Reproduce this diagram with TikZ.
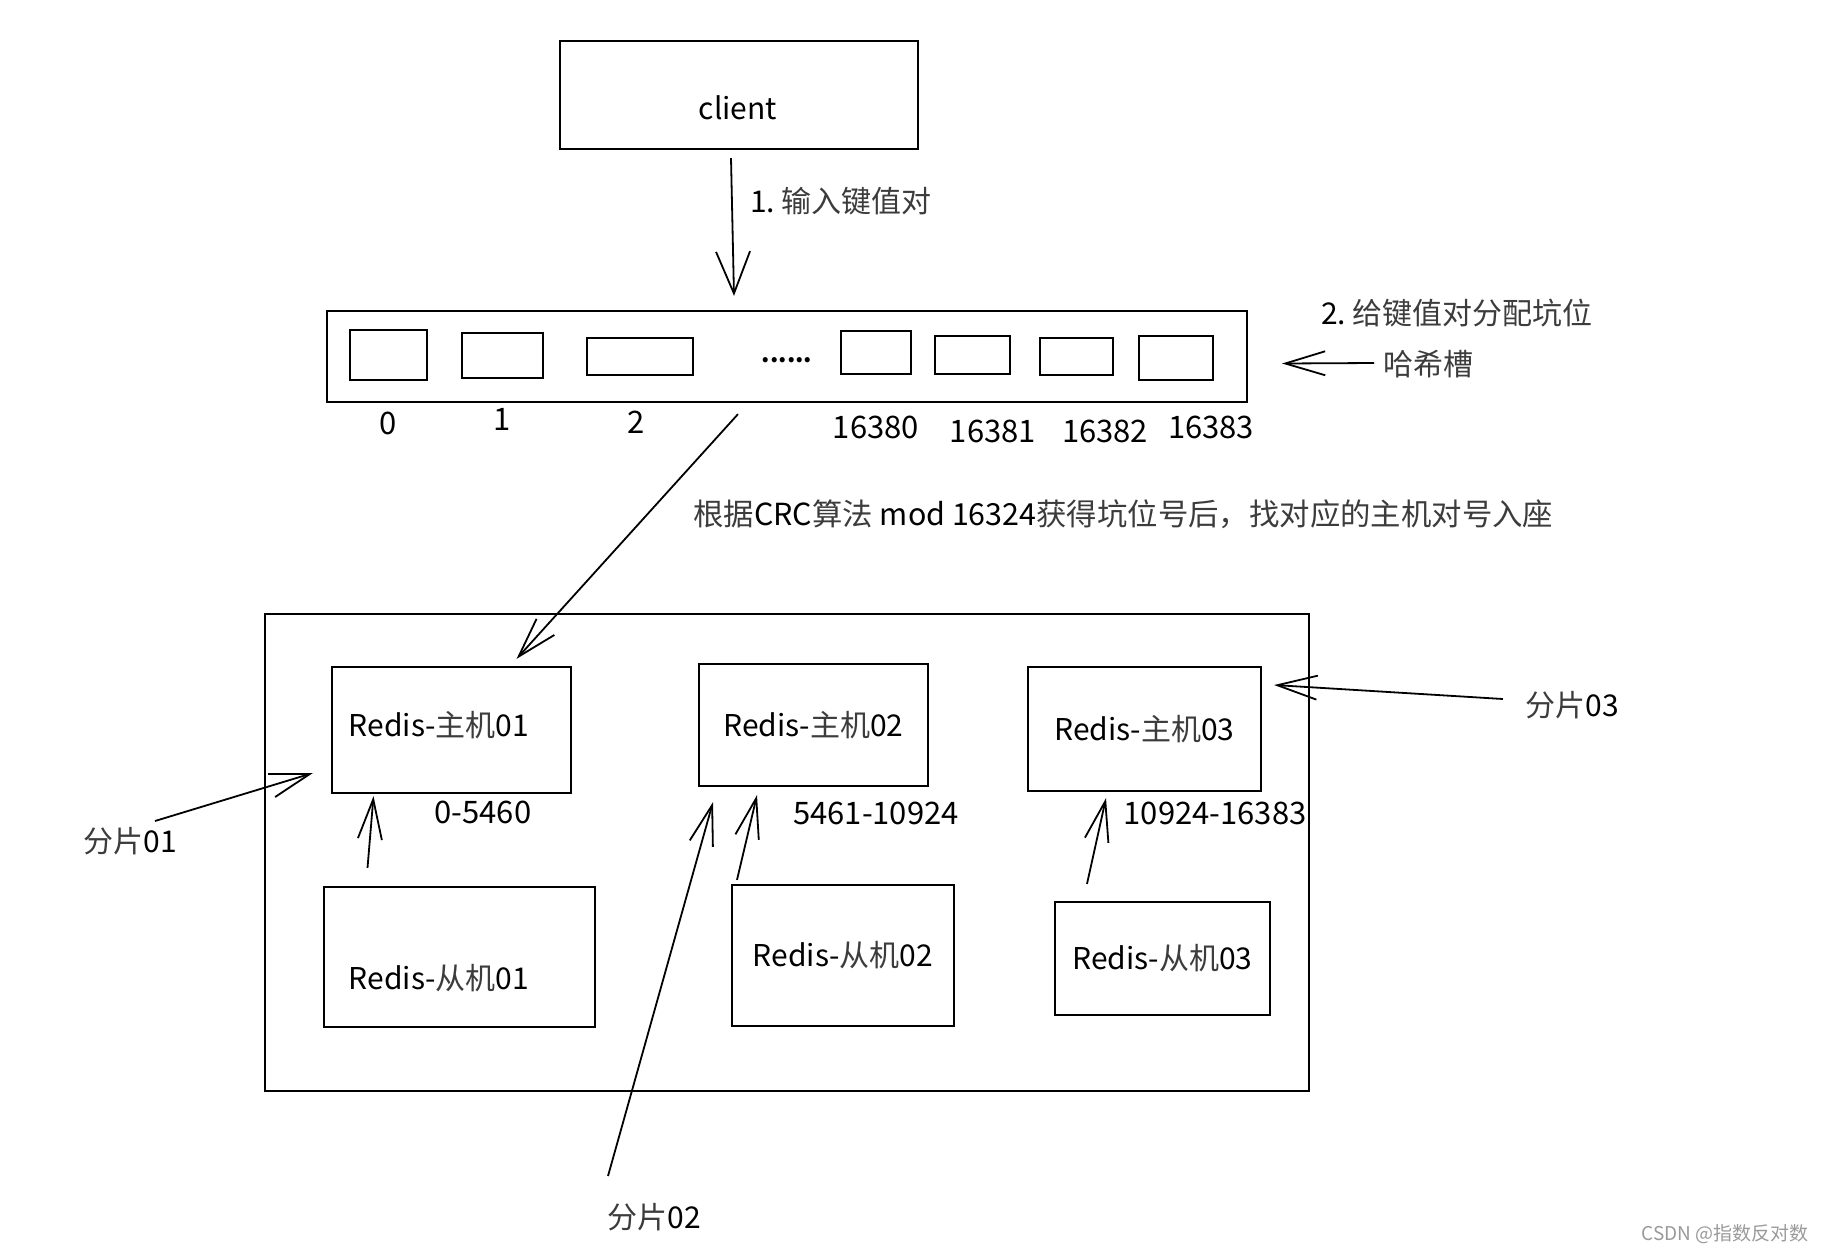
\documentclass[tikz,border=0pt]{standalone}
\usepackage{fontspec}
\setmainfont{Noto Sans CJK SC}
\usetikzlibrary{arrows.meta,calc}
\definecolor{zhgray}{HTML}{3C3C3C}
\definecolor{wmgray}{HTML}{9A9A9A}
\newcommand{\zhc}[1]{\textcolor{zhgray}{#1}}
\begin{document}
\begin{tikzpicture}[x=0.5pt,y=-0.5pt,
  bx/.style={draw, line width=1.1pt, inner sep=0pt, align=center, font=\fontsize{15}{18}\selectfont},
  txt/.style={inner sep=0pt, font=\fontsize{15}{18}\selectfont},
  num/.style={inner sep=0pt, font=\fontsize{15.5}{18}\selectfont},
  arr/.style={line width=0.9pt, -{Straight Barb[length=20pt,width=12pt,line width=0.9pt]}},
  wide/.style={-{Straight Barb[length=21pt,width=17pt,line width=0.9pt]}}
]
\useasboundingbox (0,0) rectangle (1826,1254);
\fill[white] (0,0) rectangle (1826,1254);

% client
\node[bx, minimum width=179pt, minimum height=54pt] (client) at (739,95) {};
\node[txt] (clientt) at (738,108) {client};
\node[txt] (stepone) at (841,201) {1.\ \zhc{输入键值对}};

% hash slot bar
\node[bx, minimum width=460pt, minimum height=45.5pt] (bar) at (787,356.5) {};
\node[bx, minimum width=38.5pt, minimum height=25pt] (s0) at (388.5,355) {};
\node[bx, minimum width=40.5pt, minimum height=22.5pt] (s1) at (502.5,355.5) {};
\node[bx, minimum width=53pt, minimum height=18.5pt] (s2) at (640,356.5) {};
\node[inner sep=0pt, font=\fontsize{12}{14}\selectfont\bfseries] (dots) at (787,360) {......};
\node[bx, minimum width=35pt, minimum height=21.5pt] (s80) at (876,352.5) {};
\node[bx, minimum width=37.5pt, minimum height=19pt] (s81) at (972.5,355) {};
\node[bx, minimum width=36.5pt, minimum height=18.5pt] (s82) at (1076.5,356.5) {};
\node[bx, minimum width=37pt, minimum height=22pt] (s83) at (1176,358) {};

\node[num] (l0) at (388,423) {0};
\node[num] (l1) at (502,419) {1};
\node[num] (l2) at (636,422) {2};
\node[num] (l80) at (876,427) {16380};
\node[num] (l81) at (993,431) {16381};
\node[num] (l82) at (1105,431) {16382};
\node[num] (l83) at (1211,427) {16383};

\node[txt] (steptwo) at (1457,313) {2.\ \zhc{给键值对分配坑位}};
\node[txt, anchor=west] (hx) at (1383,364) {\zhc{哈希槽}};

\node[txt, anchor=west, font=\fontsize{15.2}{18}\selectfont] (crc) at (693,514) {\zhc{根据}CRC\zhc{算法} mod 16324\zhc{获得坑位号后，找对应的主机对号入座}};

% cluster
\node[bx, minimum width=522pt, minimum height=238.5pt] (cluster) at (787,852.5) {};

\node[bx, minimum width=119.5pt, minimum height=63pt] (m1) at (451.5,730) {};
\node[txt] (m1t) at (439,725) {Redis-\zhc{主机}01};
\node[bx, minimum width=114.5pt, minimum height=61pt] (m2) at (813.5,725) {Redis-\zhc{主机}02};
\node[bx, minimum width=116.5pt, minimum height=62pt] (m3) at (1144.5,729) {Redis-\zhc{主机}03};

\node[bx, minimum width=135.5pt, minimum height=70pt] (sl1) at (459.5,957) {};
\node[txt] (sl1t) at (439,978) {Redis-\zhc{从机}01};
\node[bx, minimum width=111pt, minimum height=70.5pt] (sl2) at (843,955.5) {Redis-\zhc{从机}02};
\node[bx, minimum width=107.5pt, minimum height=56.5pt] (sl3) at (1162.5,958.5) {Redis-\zhc{从机}03};

\node[num] (r1) at (483,812) {0-5460};
\node[num] (r2) at (876,813) {5461-10924};
\node[num] (r3) at (1215,813) {10924-16383};

\node[txt] (f1) at (130,841) {\zhc{分片}01};
\node[txt] (f2) at (654,1217) {\zhc{分片}02};
\node[txt] (f3) at (1572,705) {\zhc{分片}03};

\node[inner sep=0pt, text=wmgray, font=\fontsize{9.5}{11}\selectfont] (wm) at (1725,1234) {CSDN @指数反对数};

% connectors
\draw[arr, wide] ($(client.south)+(-8,8)$) -- ($(bar.north)+(-53,-14)$);
\draw[arr] ($(hx.west)+(-9,-1)$) -- ($(bar.east)+(34,7)$);
\draw[arr] ($(bar.south)+(-49,11)$) -- ($(m1.north)+(65,-7)$);
\draw[arr] ($(sl1.north)+(-92,-18)$) -- ($(m1.south)+(-78,2)$);
\draw[arr] ($(sl2.north)+(-106,-4)$) -- ($(m2.south)+(-56.5,8)$);
\draw[arr] ($(sl3.north)+(-75.5,-17)$) -- ($(m3.south)+(-38.5,6)$);
\draw[arr] ($(f1)+(25,-20)$) -- ($(m1.west)+(-18,43)$);
\draw[arr] ($(f2)+(-46,-41)$) -- ($(m2.south)+(-100.5,15)$);
\draw[arr] ($(f3.west)+(-22,-6)$) -- ($(m3.east)+(12,-44)$);
\end{tikzpicture}
\end{document}
